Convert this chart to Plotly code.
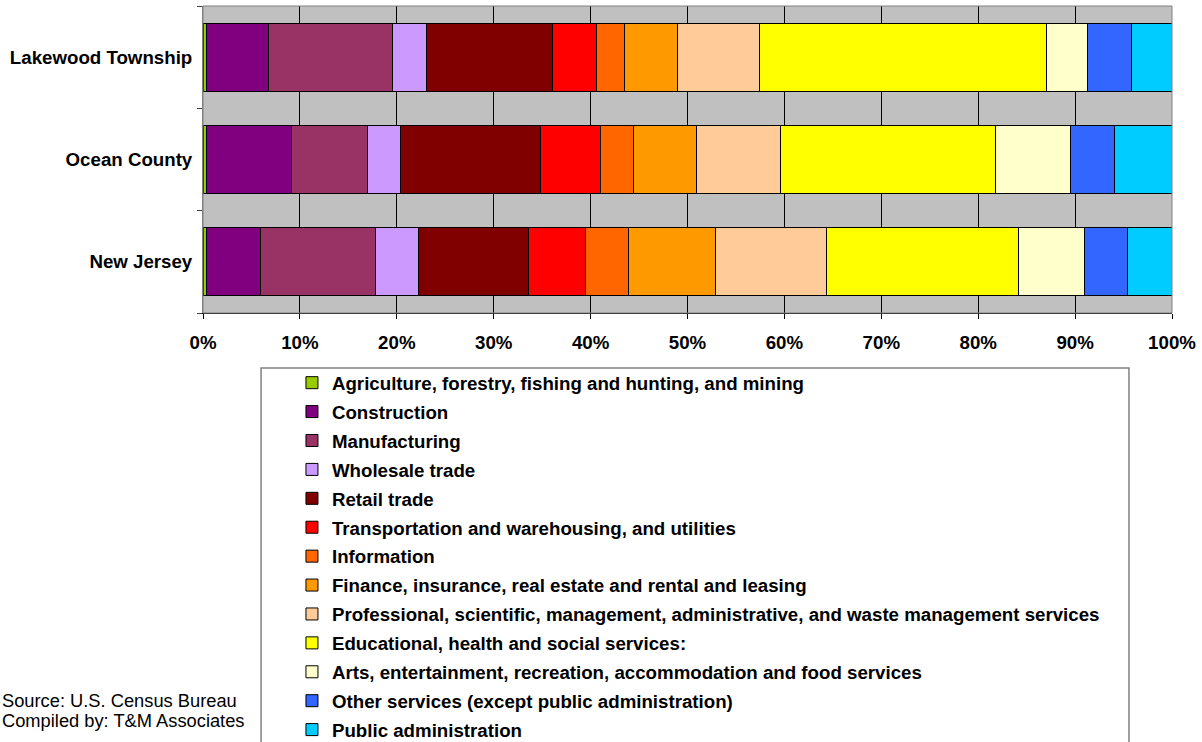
import plotly.graph_objects as go

regions = ["New Jersey", "Ocean County", "Lakewood Township"]

industries = [
    "Agriculture, forestry, fishing and hunting, and mining",
    "Construction",
    "Manufacturing",
    "Wholesale trade",
    "Retail trade",
    "Transportation and warehousing, and utilities",
    "Information",
    "Finance, insurance, real estate and rental and leasing",
    "Professional, scientific, management, administrative, and waste management services",
    "Educational, health and social services:",
    "Arts, entertainment, recreation, accommodation and food services",
    "Other services (except public administration)",
    "Public administration",
]

# shares (%) per industry, in order [New Jersey, Ocean County, Lakewood Township]
agriculture = [0.31, 0.40, 0.35]
construction = [5.60, 8.70, 6.46]
manufacturing = [11.94, 7.85, 12.76]
wholesale = [4.40, 3.47, 3.53]
retail = [11.32, 14.41, 13.00]
transportation = [5.95, 6.19, 4.50]
information = [4.37, 3.45, 2.90]
finance = [8.98, 6.50, 5.50]
professional = [11.48, 8.57, 8.40]
educational = [19.82, 22.25, 29.60]
arts = [6.83, 7.70, 4.30]
other_services = [4.40, 4.60, 4.50]
public_admin = [4.60, 5.90, 4.20]

series = [agriculture, construction, manufacturing, wholesale, retail, transportation,
          information, finance, professional, educational, arts, other_services, public_admin]

colors = ["#99CC00", "#800080", "#993366", "#CC99FF", "#800000", "#FF0000", "#FF6600",
          "#FF9900", "#FFCC99", "#FFFF00", "#FFFFCC", "#3366FF", "#00CCFF"]

tick_vals = [0, 10, 20, 30, 40, 50, 60, 70, 80, 90, 100]
tick_text = ["0%", "10%", "20%", "30%", "40%", "50%", "60%", "70%", "80%", "90%", "100%"]

FONT = "Liberation Sans, Arial, sans-serif"
FS = 18.7

fig = go.Figure()
for i, (name, vals, col) in enumerate(zip(industries, series, colors)):
    fig.add_trace(go.Bar(
        y=regions, x=vals, name=name, orientation="h",
        marker=dict(color=col, line=dict(color="#000000", width=1)),
        legendgroup=f"g{i}",
    ))

fig.update_layout(
    width=1202, height=742,
    barmode="stack", barnorm="percent", bargap=0.336,
    paper_bgcolor="white", plot_bgcolor="#C0C0C0",
    margin=dict(l=203, r=30, t=6, b=429, autoexpand=False),
    font=dict(family=FONT, size=FS, color="#000000"),
    showlegend=True,
    legend=dict(
        x=0.0918, y=-0.1662, xanchor="left", yanchor="top",
        orientation="v", traceorder="grouped", tracegroupgap=1.6,
        font=dict(family=FONT, size=FS, color="#000000", weight="bold"),
        bgcolor="rgba(0,0,0,0)", borderwidth=0, itemwidth=30,
        maxheight=1000,
    ),
    xaxis=dict(
        range=[0, 100], tickvals=tick_vals, ticktext=tick_text,
        showgrid=True, gridcolor="#000000", gridwidth=1,
        zeroline=False, showline=True, linecolor="#000000", linewidth=1,
        ticks="outside", ticklen=5, tickcolor="#000000",
        tickfont=dict(family=FONT, size=FS, color="#000000", weight="bold"),
        ticklabelstandoff=8,
    ),
    yaxis=dict(
        type="category", categoryorder="array", categoryarray=regions,
        showgrid=False, zeroline=False, showline=True, linecolor="#808080", linewidth=1,
        ticks="outside", ticklen=5, tickcolor="#404040", tickson="boundaries",
        tickfont=dict(family=FONT, size=FS, color="#000000", weight="bold"),
        ticklabelstandoff=6,
    ),
    shapes=[
        dict(type="rect", xref="paper", yref="paper", x0=0, x1=1, y0=0, y1=1,
             line=dict(color="#808080", width=1), fillcolor="rgba(0,0,0,0)", layer="above"),
        dict(type="rect", xref="paper", yref="paper", x0=0.0599, x1=0.9556, y0=-1.45, y1=-0.1792,
             line=dict(color="#808080", width=1.5), fillcolor="rgba(0,0,0,0)", layer="above"),
    ],
    annotations=[
        dict(text="Source: U.S. Census Bureau", xref="paper", yref="paper",
             x=-0.2095, y=-(701 - 313) / 307, xanchor="left", yanchor="middle",
             showarrow=False, font=dict(family=FONT, size=18.3, color="#000000")),
        dict(text="Compiled by: T&M Associates", xref="paper", yref="paper",
             x=-0.2095, y=-(721 - 313) / 307, xanchor="left", yanchor="middle",
             showarrow=False, font=dict(family=FONT, size=18.3, color="#000000")),
    ],
)

fig.write_html(
    "out.html",
    config={"displayModeBar": False},
    post_script="document.body.style.margin='0';document.body.style.padding='0';document.body.style.overflow='hidden';",
)
